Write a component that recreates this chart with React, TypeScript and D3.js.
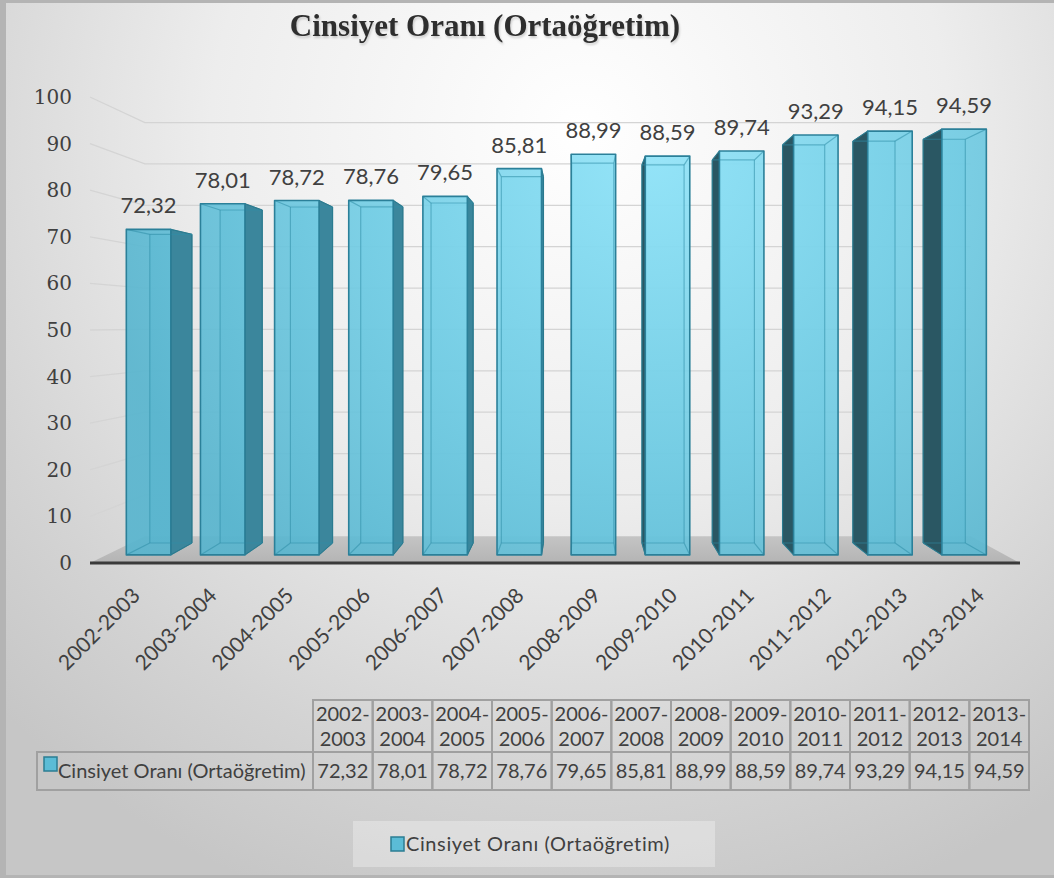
import React from "react";
import * as d3 from "d3";

const title = "Cinsiyet Oranı (Ortaöğretim)";
const seriesName = "Cinsiyet Oranı (Ortaöğretim)";
const categories = [
  "2002-2003", "2003-2004", "2004-2005", "2005-2006", "2006-2007", "2007-2008",
  "2008-2009", "2009-2010", "2010-2011", "2011-2012", "2012-2013", "2013-2014",
];
const values = [72.32, 78.01, 78.72, 78.76, 79.65, 85.81, 88.99, 88.59, 89.74, 93.29, 94.15, 94.59];
const yTicks = [0, 10, 20, 30, 40, 50, 60, 70, 80, 90, 100];

const W = 1054;
const H = 878;
// perspective settings
const VX = 580;
const VY = 325;
const S_FLOOR_BACK = 0.888;
const S_BAR_FRONT = 0.966;
const S_BAR_BACK = 0.916;

const fmt = (v: number) => v.toFixed(2).replace(".", ",");

export default function App() {
  const y = d3.scaleLinear().domain([0, 100]).range([563, 97]);
  const xFloor = d3.scaleLinear().domain([0, 1]).range([90, 1020]);
  const x = d3.scaleBand<string>().domain(categories).range([95, 1016]).paddingInner(0.4).paddingOuter(0.2);
  const bw = x.bandwidth();
  const xt = d3.scaleBand<string>().domain(categories).range([313, 1029]);

  const proj = (px: number, py: number, s: number): [number, number] => [VX + (px - VX) * s, VY + (py - VY) * s];
  const pts = (arr: [number, number][]) => arr.map((p) => p.join(",")).join(" ");
  const line = (a: [number, number], b: [number, number]) => ({ x1: a[0], y1: a[1], x2: b[0], y2: b[1] });

  const fl = xFloor(0);
  const fr = xFloor(1);
  const y0 = y(0);

  const labelFont = "Lato, 'Open Sans', sans-serif";

  return (
    <div style={{ position: "absolute", left: 0, top: 0 }}>
      <svg width={W} height={H} viewBox={`0 0 ${W} ${H}`} style={{ display: "block" }}>
        <defs>
          <radialGradient id="bg" gradientUnits="userSpaceOnUse" cx={580} cy={130} r={820}>
            <stop offset="0" stopColor="#ffffff" />
            <stop offset="0.45" stopColor="#ededed" />
            <stop offset="0.8" stopColor="#d3d3d3" />
            <stop offset="1" stopColor="#c6c6c6" />
          </radialGradient>
          <radialGradient id="barFill" gradientUnits="userSpaceOnUse" cx={650} cy={150} r={560}>
            <stop offset="0" stopColor="#8fe3f8" />
            <stop offset="0.55" stopColor="#6fcbe3" />
            <stop offset="1" stopColor="#55b4ce" />
          </radialGradient>
          <linearGradient id="floorFill" x1="0" y1="0" x2="0" y2="1">
            <stop offset="0" stopColor="#c4c4c4" />
            <stop offset="1" stopColor="#b4b4b4" />
          </linearGradient>
          <filter id="tshadow" x="-5%" y="-20%" width="110%" height="160%">
            <feDropShadow dx="1" dy="2" stdDeviation="1.2" floodColor="#000" floodOpacity="0.18" />
          </filter>
        </defs>

        {/* background frame */}
        <rect x={0} y={0} width={W} height={H} fill="#b4b4b4" />
        <rect x={6} y={3} width={W - 6} height={H - 6} fill="url(#bg)" />

        {/* title */}
        <text
          x={485}
          y={36}
          textAnchor="middle"
          fontFamily="'Liberation Serif', 'DejaVu Serif', serif"
          fontWeight="bold"
          fontSize={31}
          fill="#2e2e2e"
          filter="url(#tshadow)"
        >
          {title}
        </text>

        {/* gridlines: left wall + back wall */}
        {yTicks.filter((t) => t > 0).map((t) => {
          const a = proj(fl, y(t), 1);
          const b = proj(fl, y(t), S_FLOOR_BACK);
          const c = proj(fr, y(t), S_FLOOR_BACK);
          return (
            <polyline key={t} points={pts([a, b, c])} fill="none" stroke="#d4d4d4" strokeWidth={1.3} />
          );
        })}

        {/* y-axis labels */}
        {yTicks.map((t) => (
          <text
            key={t}
            x={72}
            y={y(t) + 7}
            textAnchor="end"
            fontFamily="'DejaVu Serif', 'Liberation Serif', serif"
            fontSize={20}
            fill="#404040"
          >
            {t}
          </text>
        ))}

        {/* floor */}
        <polygon
          points={pts([proj(fl, y0, 1), proj(fr, y0, 1), proj(fr, y0, S_FLOOR_BACK), proj(fl, y0, S_FLOOR_BACK)])}
          fill="url(#floorFill)"
        />
        <line x1={fl} y1={y0} x2={fr} y2={y0} stroke="#3a3a3a" strokeWidth={3} />

        {/* bars */}
        {categories.map((c, i) => {
          const v = values[i];
          const x0 = x(c) as number;
          const x1 = x0 + bw;
          const yt = y(v);
          const F = [proj(x0, yt, S_BAR_FRONT), proj(x1, yt, S_BAR_FRONT), proj(x1, y0, S_BAR_FRONT), proj(x0, y0, S_BAR_FRONT)];
          const B = [proj(x0, yt, S_BAR_BACK), proj(x1, yt, S_BAR_BACK), proj(x1, y0, S_BAR_BACK), proj(x0, y0, S_BAR_BACK)];
          const rightVisible = F[1][0] < VX;
          const leftVisible = F[0][0] > VX;
          let side: [number, number][] | null = null;
          let sideColor = "#3d8aa0";
          if (rightVisible) {
            side = [F[1], B[1], B[2], F[2]];
            sideColor = "#3b869c";
          } else if (leftVisible) {
            side = [F[0], B[0], B[3], F[3]];
            sideColor = "#2a5763";
          }
          const inner = [
            line(B[0], B[1]),
            line(B[1], B[2]),
            line(B[2], B[3]),
            line(B[3], B[0]),
            line(F[0], B[0]),
            line(F[1], B[1]),
            line(F[2], B[2]),
            line(F[3], B[3]),
          ];
          return (
            <g key={c}>
              <polygon points={pts(B)} fill="url(#barFill)" opacity={0.5} />
              {side && <polygon points={pts(side)} fill={sideColor} stroke="#22606f" strokeWidth={1} strokeLinejoin="round" />}
              <polygon points={pts(F)} fill="url(#barFill)" opacity={0.9} />
              {inner.map((l, k) => (
                <line key={k} {...l} stroke="#2f8ea7" strokeWidth={1.2} opacity={0.55} />
              ))}
              <polygon points={pts(F)} fill="none" stroke="#2b8099" strokeWidth={1.6} strokeLinejoin="round" />
              <text
                x={(F[0][0] + F[1][0]) / 2}
                y={F[0][1] - 16}
                textAnchor="middle"
                fontFamily={labelFont}
                fontSize={22}
                fill="#404040"
              >
                {fmt(v)}
              </text>
            </g>
          );
        })}

        {/* x-axis labels */}
        {categories.map((c) => {
          const cx = (x(c) as number) + bw / 2 + 8;
          const cy = 597;
          return (
            <text
              key={c}
              x={cx}
              y={cy}
              transform={`rotate(-45 ${cx} ${cy})`}
              textAnchor="end"
              fontFamily={labelFont}
              fontSize={21}
              fill="#404040"
            >
              {c}
            </text>
          );
        })}

        {/* data table */}
        <g fontFamily={labelFont} fontSize={20} fill="#404040">
          {categories.map((c, i) => {
            const cx0 = xt(c) as number;
            const cw = xt.bandwidth();
            const [a, b] = c.split("-");
            return (
              <g key={c}>
                <rect x={cx0} y={700} width={cw} height={52} fill="none" stroke="#a0a0a0" strokeWidth={2} />
                <rect x={cx0} y={752} width={cw} height={38} fill="none" stroke="#a0a0a0" strokeWidth={2} />
                <text x={cx0 + cw / 2} y={721} textAnchor="middle">{a + "-"}</text>
                <text x={cx0 + cw / 2} y={746} textAnchor="middle">{b}</text>
                <text x={cx0 + cw / 2} y={778} textAnchor="middle">{fmt(values[i])}</text>
              </g>
            );
          })}
          <rect x={37} y={752} width={313 - 37} height={38} fill="none" stroke="#a0a0a0" strokeWidth={2} />
          <rect x={44} y={757} width={13} height={14} fill="#5bbcd6" stroke="#2b7d93" strokeWidth={1.5} />
          <text x={58} y={778}>{seriesName}</text>
        </g>

        {/* legend */}
        <rect x={353} y={821} width={362} height={46} fill="#ffffff" opacity={0.3} />
        <rect x={391} y={837} width={13} height={14} fill="#5bbcd6" stroke="#2b7d93" strokeWidth={1.5} />
        <text x={406} y={851} fontFamily={labelFont} fontSize={20} letterSpacing={0.6} fill="#404040">
          {seriesName}
        </text>
      </svg>
    </div>
  );
}
